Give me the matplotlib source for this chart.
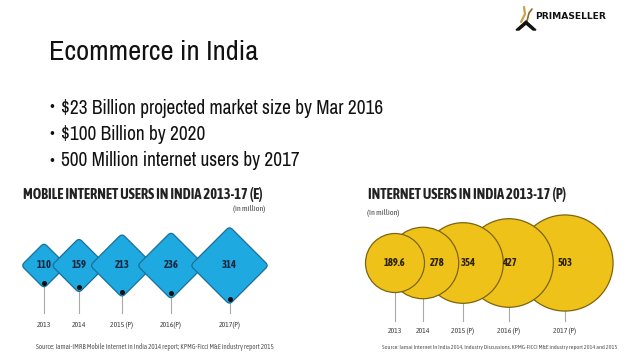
import matplotlib
matplotlib.use("Agg")
import matplotlib.pyplot as plt
from matplotlib.patches import FancyBboxPatch, Circle, Polygon
from matplotlib.transforms import Affine2D

# ---------------- DATA ----------------
slide_title = "Ecommerce in India"
bullets = ["$23 Billion projected market size by Mar 2016",
           "$100 Billion by 2020",
           "500 Million internet users by 2017"]

mobile_title = "MOBILE INTERNET USERS IN INDIA 2013-17 (E)"
mobile_years = ["2013", "2014", "2015 (P)", "2016(P)", "2017(P)"]
mobile_users = [110, 159, 213, 236, 314]
mobile_source = "Source: Iamai-IMRB Mobile Internet in India 2014 report; KPMG-Ficci M&E industry report 2015"

net_title = "INTERNET USERS IN INDIA 2013-17 (P)"
net_years = ["2013", "2014", "2015 (P)", "2016 (P)", "2017 (P)"]
net_users = [189.6, 278, 354, 427, 503]
net_source = "Source: Iamai Internet In India 2014, Industry Discussions, KPMG-FICCI M&E industry report 2014 and 2015"

# ---------------- LAYOUT (pixels) ----------------
W, H = 638, 359
diamond_x = [44, 79, 122, 171, 229.5]
diamond_y = 265.5
circle_x = [395, 423, 463, 509, 565]
circle_y = 263
circle_label_dx = [0, 14, 5, 0, 0]

SLIDE_FONT = ["Archivo Narrow", "DejaVu Sans"]
COND = ["Asap Condensed", "DejaVu Sans"]
BLUE, BLUE_EDGE = "#1fa9e1", "#17709a"
GOLD, GOLD_EDGE = "#efc21a", "#7d6410"

fig = plt.figure(figsize=(W / 100, H / 100), dpi=100)
ax = fig.add_axes([0, 0, 1, 1])
ax.set_xlim(0, W)
ax.set_ylim(H, 0)
ax.axis("off")

# ---------------- SLIDE TEXT ----------------
ax.text(49, 53, slide_title, family=SLIDE_FONT, fontsize=20.5, color="#111111",
        va="center", ha="left")
for i, b in enumerate(bullets):
    y = 108 + i * 26.5
    ax.text(49, y, "\u2022", family=SLIDE_FONT, fontsize=12, color="#111111", va="center")
    ax.text(61, y, b, family=SLIDE_FONT, fontsize=13.9, color="#111111", va="center")

# logo
ax.add_patch(Polygon([[516, 30], [526, 21], [536, 30], [533, 30], [526, 24], [519, 30]],
                     closed=True, color="#111111", zorder=5))
ax.plot([521, 525, 524], [22, 14, 7], color="#c9a04a", lw=1.6, solid_capstyle="round")
ax.plot([527, 529, 532], [21, 13, 9], color="#8a6a2a", lw=1.2, solid_capstyle="round")
ax.text(535, 16.5, "PRIMASELLER", family="DejaVu Sans", fontweight="bold",
        fontsize=6.6, color="#111111", va="center", ha="left")

# ---------------- MOBILE DIAMONDS ----------------
ax.text(23, 195, mobile_title, family=COND, fontweight="bold", fontsize=10.4,
        color="#222222", va="center", ha="left")
ax.text(265, 209, "(in million)", family=COND, fontsize=5.8, color="#444444",
        va="center", ha="right")

rnd = 4.0
for i, (v, yr) in enumerate(zip(mobile_users, mobile_years)):
    cx = diamond_x[i]
    h = 21 * (v / mobile_users[0]) ** 0.55
    side = (h + 0.414 * rnd) * 2 ** 0.5
    tr = Affine2D().rotate_deg_around(cx, diamond_y, 45) + ax.transData
    ax.add_patch(FancyBboxPatch((cx - side / 2, diamond_y - side / 2), side, side,
                                boxstyle=f"round,pad=0,rounding_size={rnd}",
                                fc=BLUE, ec=BLUE_EDGE, lw=0.9, transform=tr, zorder=2 + i))
    ax.text(cx, diamond_y - 1, f"{v}", family=COND, fontweight="bold", fontsize=7.6,
            color="#14253d", ha="center", va="center", zorder=20)
    dot_y = diamond_y + h - 4
    ax.plot([cx, cx], [dot_y, 313], color="#a8a8a8", lw=0.8, zorder=1)
    ax.plot(cx, dot_y, "o", ms=2.6, color="#111111", zorder=21)
    ax.text(cx, 325, yr, family=COND, fontsize=5.6, color="#444444",
            ha="center", va="center")

ax.text(36, 347, mobile_source, family=COND, fontsize=5.0, color="#555555",
        ha="left", va="center")

# ---------------- INTERNET CIRCLES ----------------
ax.text(368, 195, net_title, family=COND, fontweight="bold", fontsize=10.4,
        color="#222222", va="center", ha="left")
ax.text(367, 213, "(In million)", family=COND, fontsize=5.8, color="#444444",
        va="center", ha="left")

n = len(net_users)
for i, (v, yr) in enumerate(zip(net_users, net_years)):
    cx = circle_x[i]
    r = 29.5 * (v / net_users[0]) ** 0.5
    ax.add_patch(Circle((cx, circle_y), r, fc=GOLD, ec=GOLD_EDGE, lw=0.9,
                        zorder=2 + n - i))
    ax.text(cx + circle_label_dx[i], circle_y, f"{v:g}", family=COND, fontweight="bold",
            fontsize=7.6, color="#2b2205", ha="center", va="center", zorder=20)
    ax.plot([cx, cx], [circle_y, 321], color="#a8a8a8", lw=0.8, zorder=1)
    ax.text(cx, 331, yr, family=COND, fontsize=5.6, color="#444444",
            ha="center", va="center")

ax.text(382, 347, net_source, family=COND, fontsize=4.4, color="#555555",
        ha="left", va="center")

fig.savefig("out.png", dpi=100, facecolor="white")
